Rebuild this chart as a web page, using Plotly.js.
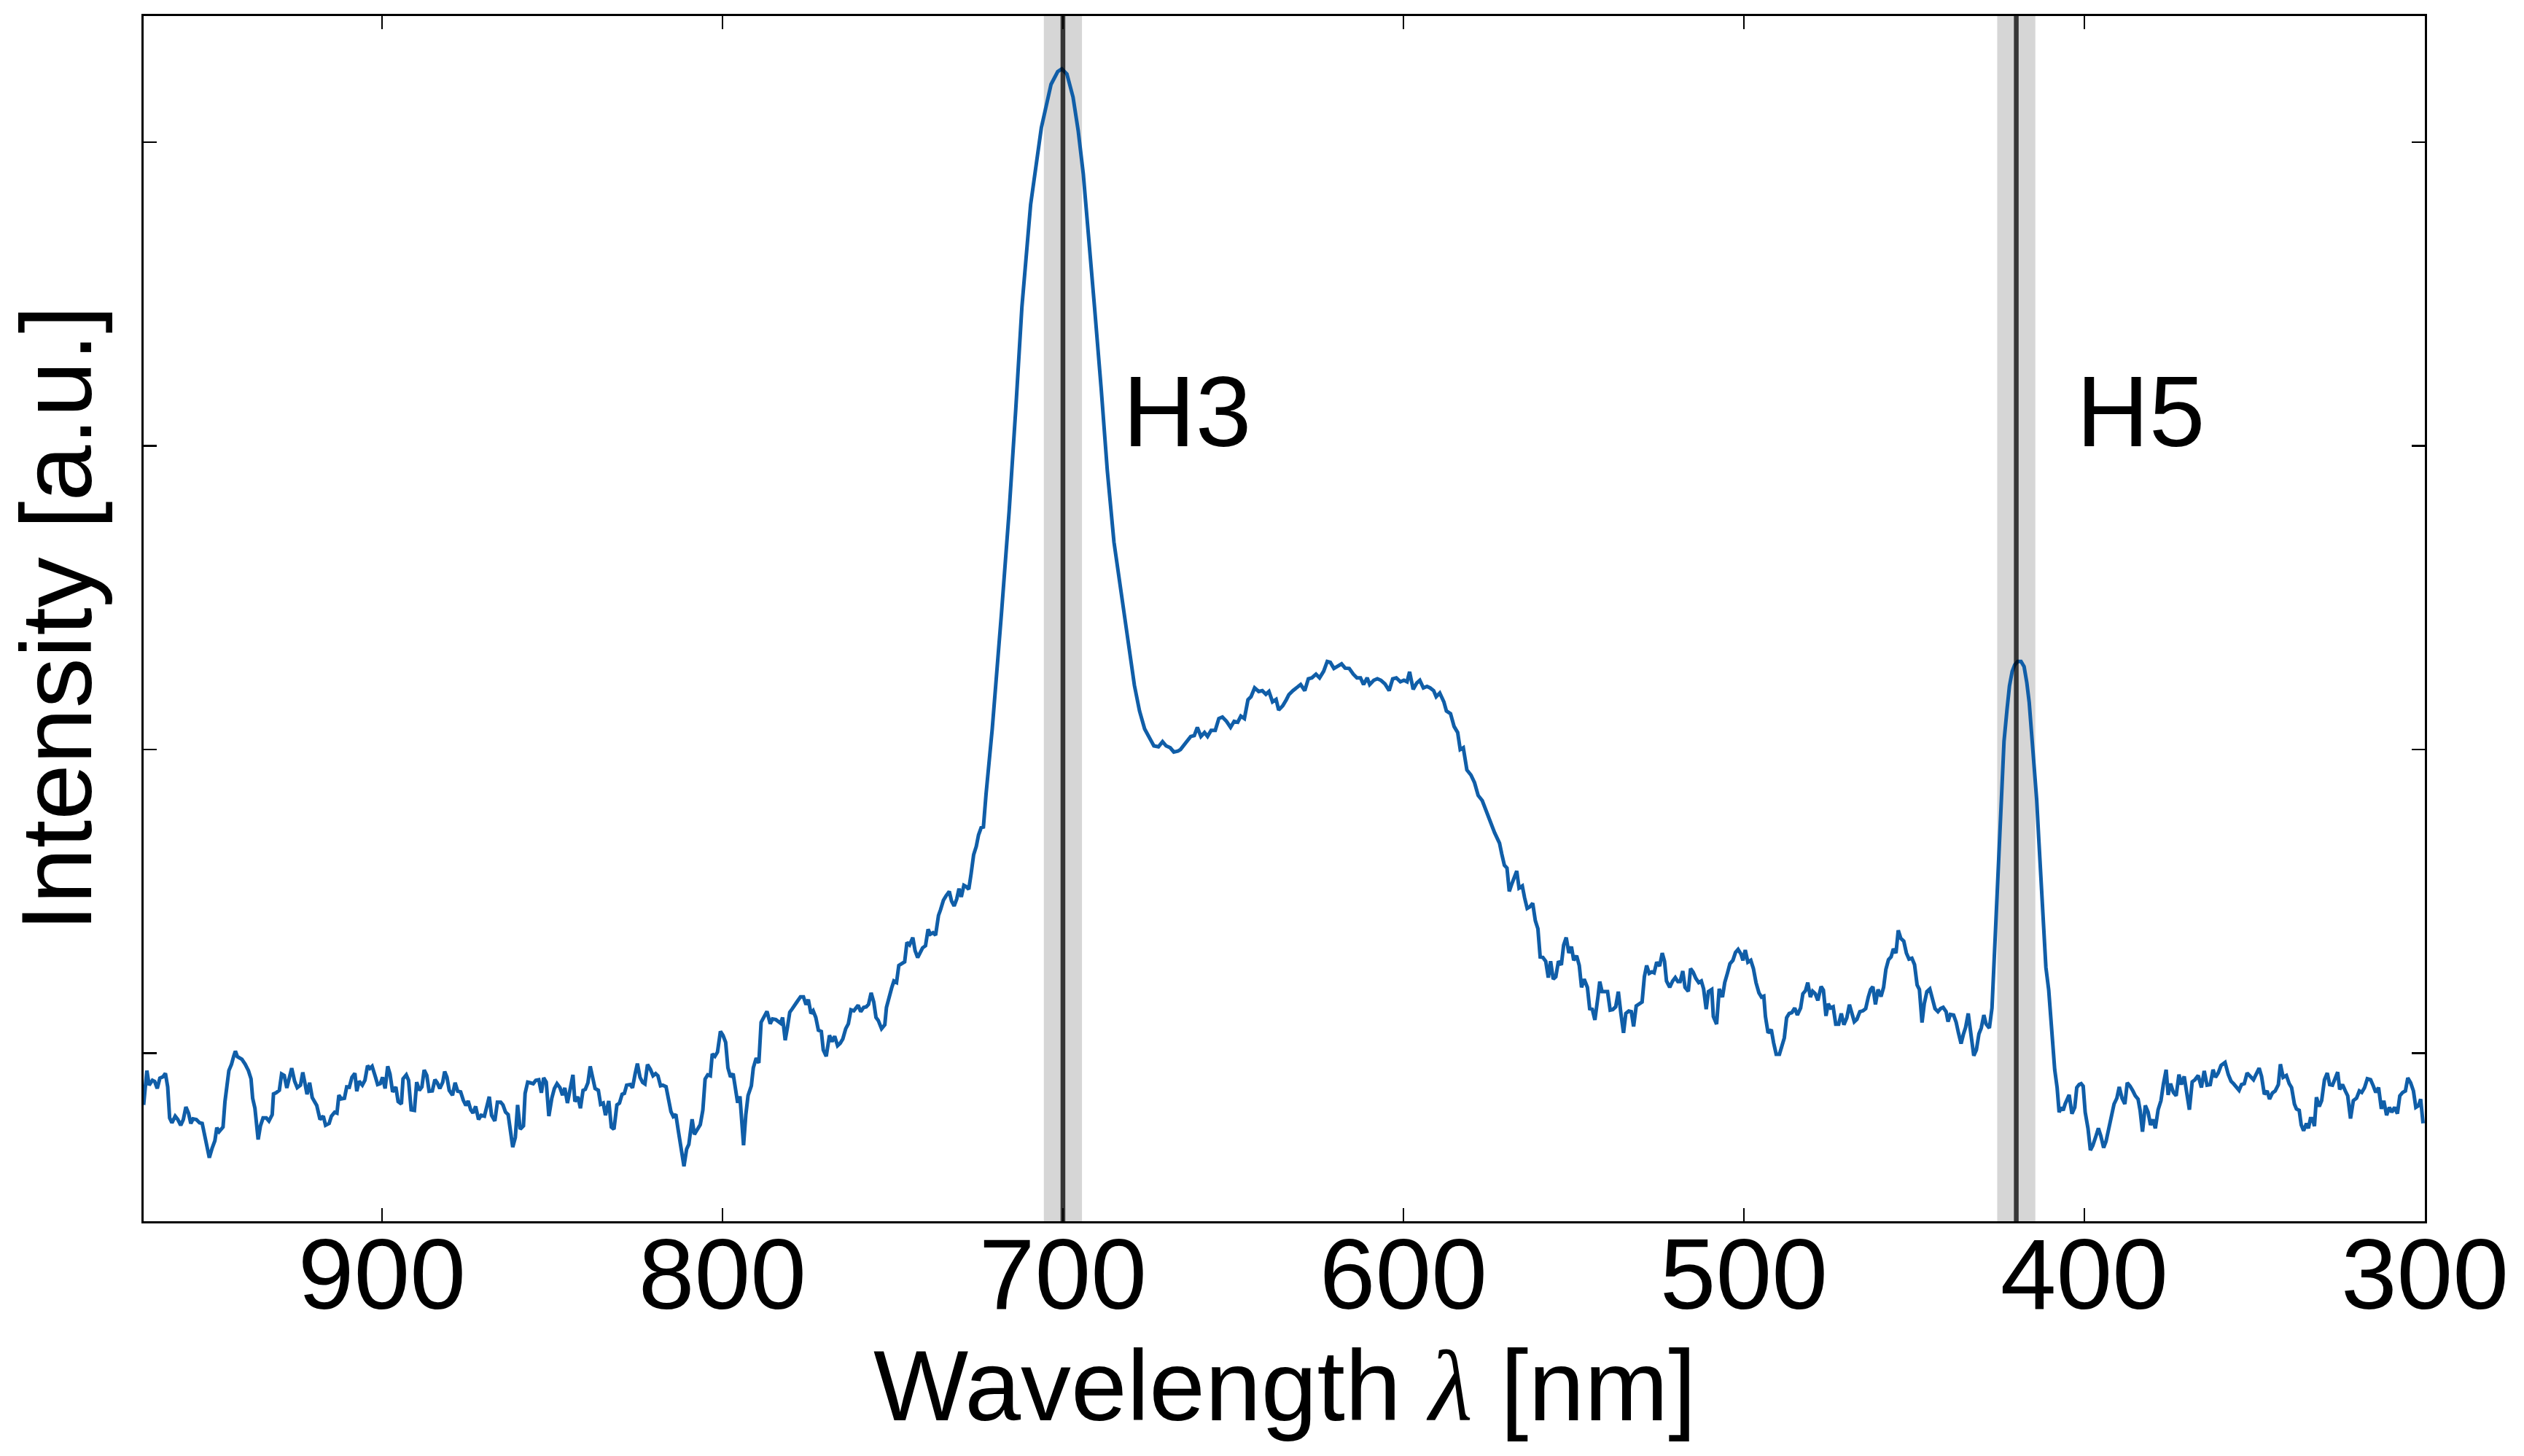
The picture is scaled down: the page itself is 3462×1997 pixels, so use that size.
<!DOCTYPE html>
<html>
<head>
<meta charset="utf-8">
<script src="https://cdn.plot.ly/plotly-3.0.1.min.js"></script>
<style>
  html, body { margin: 0; padding: 0; background: #ffffff; }
  #chart { width: 3462px; height: 1997px; }
</style>
</head>
<body>
<div id="chart"></div>
<script>
// ---- Data (wavelength in nm, intensity in arbitrary units) ----
const wavelengthA = [
  970.0, 969.05, 968.38, 967.43, 966.76, 966.0, 965.23, 964.27, 963.6, 962.93,
  962.36, 961.69, 960.73, 959.97, 959.11, 958.34, 957.58, 956.81, 956.14, 955.48,
  954.52, 953.56, 952.8, 952.13, 951.46, 950.7, 949.93, 949.07, 948.5, 947.83,
  946.68, 946.11, 944.96, 944.19, 943.53, 943.05, 942.47, 941.14, 940.18, 939.22,
  938.46, 937.98, 937.31, 936.83, 936.36, 935.69, 934.92, 933.97, 933.2, 932.24,
  931.86, 931.1, 930.14, 929.47, 928.71, 927.94, 927.08, 926.51, 925.65, 924.88,
  923.93, 923.26, 922.68, 922.01, 921.25, 920.48, 919.15, 918.19, 917.23, 916.56,
  915.51, 914.85, 913.89, 913.22, 912.65, 911.98, 911.02, 910.35, 909.59, 908.82,
  907.96, 907.39, 906.72, 905.76, 905.0, 904.23, 903.56, 902.89, 901.94, 901.27,
  900.5, 899.83, 899.07, 898.31, 897.64, 896.87, 895.92, 895.25, 894.29, 893.81,
  892.86, 892.19, 891.42, 890.47, 889.8, 889.03, 888.27, 887.6, 886.83, 886.16,
  885.21, 884.44, 883.77, 883.01, 882.15, 881.58, 880.91, 880.24, 879.28, 878.52,
  877.75, 876.89, 876.13, 875.36, 874.69, 873.93, 873.26, 872.49, 871.63, 870.87,
  869.91, 869.24, 868.48, 867.81, 866.85, 866.09, 865.13, 864.46, 863.7, 862.93,
  862.26, 861.59, 860.83, 860.16, 859.4, 858.44, 857.96, 857.2, 856.53, 855.57,
  854.81, 853.95, 853.18, 852.51, 851.75, 850.98, 850.12, 849.36, 848.59, 847.73,
  846.97, 846.3, 845.53, 844.58, 843.91, 843.33, 842.47, 841.71, 840.94, 840.28,
  839.51, 838.84, 838.08, 837.41, 836.45, 835.78, 835.02, 834.35, 833.39, 832.63,
  831.86, 831.0, 830.24, 829.47, 828.8, 828.13, 827.08, 826.41, 825.65, 824.98,
  824.21
];
const intensityA = [
  0.830, 0.943, 0.895, 0.911, 0.907, 0.884, 0.918, 0.923, 0.934, 0.889,
  0.787, 0.771, 0.793, 0.782, 0.763, 0.782, 0.823, 0.803, 0.769, 0.784,
  0.782, 0.771, 0.769, 0.734, 0.702, 0.656, 0.686, 0.712, 0.755, 0.742,
  0.757, 0.841, 0.943, 0.964, 0.991, 1.007, 0.989, 0.980, 0.964, 0.943,
  0.916, 0.852, 0.819, 0.771, 0.716, 0.761, 0.787, 0.787, 0.777, 0.798,
  0.866, 0.870, 0.878, 0.932, 0.927, 0.886, 0.932, 0.951, 0.908, 0.887,
  0.895, 0.937, 0.905, 0.865, 0.903, 0.854, 0.828, 0.782, 0.793, 0.763,
  0.769, 0.793, 0.806, 0.803, 0.862, 0.850, 0.852, 0.889, 0.888, 0.921,
  0.934, 0.875, 0.908, 0.895, 0.911, 0.959, 0.950, 0.957, 0.923, 0.897,
  0.900, 0.921, 0.884, 0.957, 0.932, 0.873, 0.889, 0.841, 0.833, 0.916,
  0.929, 0.911, 0.814, 0.812, 0.905, 0.878, 0.889, 0.945, 0.927, 0.875,
  0.876, 0.913, 0.903, 0.884, 0.905, 0.940, 0.921, 0.878, 0.862, 0.903,
  0.875, 0.873, 0.846, 0.828, 0.843, 0.814, 0.803, 0.825, 0.782, 0.796,
  0.793, 0.823, 0.857, 0.796, 0.777, 0.839, 0.839, 0.830, 0.806, 0.798,
  0.739, 0.691, 0.723, 0.830, 0.750, 0.761, 0.868, 0.905, 0.903, 0.900,
  0.911, 0.913, 0.870, 0.919, 0.905, 0.793, 0.852, 0.884, 0.900, 0.887,
  0.862, 0.886, 0.836, 0.895, 0.929, 0.841, 0.857, 0.819, 0.878, 0.881,
  0.903, 0.957, 0.911, 0.884, 0.878, 0.832, 0.836, 0.796, 0.843, 0.757,
  0.750, 0.830, 0.836, 0.865, 0.868, 0.895, 0.897, 0.886, 0.932, 0.966,
  0.921
];

const wavelengthB = [
  823.44, 822.77, 822.01, 821.15, 820.38, 819.62, 818.95, 818.18, 817.51, 816.56,
  815.79, 815.12, 814.45, 813.69, 813.02, 812.26, 811.3, 810.53, 809.87, 808.91,
  808.24, 807.48, 806.52, 805.75, 805.09, 804.32, 803.56, 802.98, 802.22, 801.45,
  800.59, 799.83, 799.06, 798.39, 797.63, 796.86, 796.19, 795.53, 794.86, 793.8,
  793.14, 792.47, 791.51, 790.94, 790.08, 789.31, 788.64, 787.88, 786.92, 785.97,
  785.3, 784.34, 783.58, 782.91, 782.33, 781.57, 780.9, 780.23, 779.46, 778.8,
  778.13, 777.07, 776.21, 775.45, 774.78, 774.01, 773.35, 772.58, 771.82, 770.96,
  770.38, 769.52, 768.57, 767.8, 767.04, 766.18, 765.41, 764.65, 763.79, 763.02,
  762.26, 761.4, 760.63, 760.15, 759.39, 758.53, 757.76, 757.09, 756.33, 755.56,
  754.9, 754.23, 753.27, 752.31, 751.83, 751.07, 750.3, 749.64, 748.87, 748.2,
  747.44, 746.48, 745.81, 745.05, 744.09, 743.42, 742.66, 741.99, 741.22, 740.36,
  739.6, 738.93, 738.16, 737.4, 736.54, 735.96, 735.1, 734.34, 733.38, 732.71,
  731.95, 731.19, 730.52, 729.85, 729.08, 728.41, 727.65, 726.98, 726.22, 725.45,
  724.78, 724.01, 723.35, 722.58, 721.91, 721.15
];
const intensityB = [
  0.904, 0.899, 0.963, 0.947, 0.926, 0.933, 0.926, 0.893, 0.895, 0.890,
  0.850, 0.808, 0.792, 0.799, 0.749, 0.700, 0.628, 0.684, 0.700, 0.783,
  0.733, 0.747, 0.765, 0.813, 0.915, 0.929, 0.926, 0.998, 0.990, 1.004,
  1.072, 1.059, 1.036, 0.952, 0.922, 0.933, 0.888, 0.837, 0.858, 0.697,
  0.797, 0.861, 0.893, 0.952, 0.984, 0.968, 1.102, 1.118, 1.138, 1.097,
  1.113, 1.111, 1.105, 1.099, 1.118, 1.043, 1.086, 1.135, 1.147, 1.156,
  1.169, 1.186, 1.186, 1.160, 1.177, 1.131, 1.140, 1.118, 1.076, 1.072,
  1.011, 0.990, 1.059, 1.038, 1.056, 1.025, 1.033, 1.047, 1.081, 1.097,
  1.143, 1.140, 1.151, 1.158, 1.137, 1.151, 1.153, 1.161, 1.199, 1.169,
  1.118, 1.108, 1.081, 1.094, 1.151, 1.188, 1.215, 1.238, 1.233, 1.289,
  1.293, 1.301, 1.365, 1.357, 1.381, 1.338, 1.315, 1.333, 1.347, 1.354,
  1.408, 1.392, 1.397, 1.389, 1.454, 1.472, 1.504, 1.518, 1.533, 1.501,
  1.485, 1.508, 1.542, 1.515, 1.553, 1.549, 1.540, 1.590, 1.654, 1.681,
  1.719, 1.743, 1.745, 1.853, 1.938, 2.024
];

// H3 peak
const wavelengthC = [
  720.76, 718.06, 715.8, 713.85, 712.05, 709.49, 706.34, 703.49, 701.53, 700.33,
  698.83, 697.03, 695.52, 694.02, 692.52, 690.72, 688.76, 686.96, 685.01, 682.75,
  680.5, 679.0, 677.5, 676.0, 674.49
];
const intensityC = [
  2.068, 2.447, 2.784, 3.121, 3.457, 3.794, 4.047, 4.190, 4.232, 4.241,
  4.224, 4.148, 4.038, 3.895, 3.710, 3.457, 3.188, 2.918, 2.683, 2.497,
  2.329, 2.211, 2.127, 2.068, 2.034
];

// plateau between the lines
const wavelengthD = [
  673.29, 671.94, 670.74, 669.69, 668.48, 667.43, 666.23, 665.48, 664.73, 663.68,
  662.47, 661.42, 660.52, 659.47, 658.42, 657.52, 656.47, 655.26, 654.21, 653.16,
  651.96, 650.76, 649.71, 648.66, 647.75, 646.7, 645.65, 644.75, 643.7, 642.5,
  641.45, 640.39, 639.49, 638.44, 637.39, 636.64, 635.44, 634.39, 633.63, 632.43,
  631.23, 630.18, 628.97, 627.92, 626.87, 625.67, 624.62, 623.42, 622.37, 621.47,
  620.41, 619.21, 618.16, 617.11, 615.91, 614.71, 613.65, 612.6, 611.7, 610.65,
  609.9, 608.7, 607.65, 606.6, 605.39, 604.19, 603.14, 602.09, 600.89, 599.83,
  598.93, 598.18, 597.13, 596.08, 595.18, 594.13, 593.07, 592.17, 591.12, 590.37,
  589.32, 588.12, 587.37, 586.16, 585.11, 584.06, 583.31, 582.41, 581.36, 580.16,
  579.11, 578.05, 576.85
];
const intensityD = [
  2.012, 2.009, 2.026, 2.012, 2.006, 1.992, 1.995, 2.000, 2.012, 2.026,
  2.043, 2.046, 2.073, 2.043, 2.056, 2.043, 2.063, 2.063, 2.102, 2.107,
  2.093, 2.073, 2.093, 2.090, 2.110, 2.102, 2.164, 2.174, 2.203, 2.191,
  2.194, 2.182, 2.191, 2.157, 2.165, 2.130, 2.144, 2.164, 2.181, 2.194,
  2.203, 2.214, 2.194, 2.233, 2.236, 2.248, 2.236, 2.258, 2.290, 2.287,
  2.267, 2.275, 2.282, 2.268, 2.267, 2.248, 2.236, 2.236, 2.214, 2.236,
  2.214, 2.228, 2.233, 2.228, 2.216, 2.194, 2.233, 2.236, 2.223, 2.228,
  2.223, 2.256, 2.198, 2.219, 2.228, 2.203, 2.208, 2.203, 2.194, 2.174,
  2.186, 2.157, 2.127, 2.118, 2.076, 2.056, 2.000, 2.006, 1.933, 1.916,
  1.891, 1.849, 1.832
];

const wavelengthE = [
  573.21, 572.45, 571.78, 571.11, 570.34, 569.58, 568.91, 568.24, 567.47, 566.71,
  566.04, 565.08, 564.41, 563.65, 562.88, 562.02, 561.26, 560.5, 559.83, 559.06,
  558.2, 557.44, 556.77, 556.0, 555.24, 554.47, 553.61, 552.94, 552.18, 551.41,
  550.65, 549.98, 549.12, 548.35, 547.68, 546.92, 545.96, 545.29, 544.53, 543.76,
  542.81, 542.33, 541.66, 540.9, 540.04, 539.27, 538.51, 537.65, 536.88, 536.12,
  535.35, 534.68, 533.82, 533.06, 532.39, 531.62, 530.86, 529.9, 529.23, 528.56,
  527.8, 527.03, 526.37, 525.6, 524.74, 523.98, 523.31, 522.73, 521.78, 520.92,
  520.15, 519.39, 518.72, 517.95, 517.28, 516.33, 515.66, 514.89, 514.13, 513.27,
  512.5, 511.83, 511.07, 510.4, 509.44, 508.97, 508.01, 507.24, 506.29, 505.62,
  504.85, 504.09, 503.23, 502.46, 501.7, 500.84, 500.27, 499.6, 498.83, 497.97,
  497.21, 496.44, 495.58, 494.82, 494.15, 493.67, 492.9, 491.95, 491.28, 490.51,
  489.56, 488.79, 488.12, 487.45, 486.69, 485.92, 485.07, 484.3, 483.34, 482.67,
  481.91, 481.24, 480.47, 479.81, 479.04, 478.28, 477.32, 476.65, 475.89, 475.22,
  474.55, 473.78, 473.02, 472.16, 471.39, 470.63, 469.77, 469.0, 468.24, 467.57,
  466.8, 465.94, 464.99, 464.22, 463.46, 462.79, 462.12, 461.36, 460.59, 459.73,
  458.97, 458.3, 457.53, 456.77, 456.1, 455.33, 454.66, 453.9, 453.04, 452.27,
  451.51, 450.65, 449.88, 449.12, 448.45, 447.68, 447.02, 446.25, 445.39, 444.62,
  443.86, 443.0, 442.24, 441.47, 440.61, 440.04, 439.37, 438.41, 437.65, 436.98,
  436.21, 435.54, 434.88, 434.11, 433.35, 432.48, 431.72, 430.96, 430.29, 429.52,
  428.85, 427.9, 427.13
];
const intensityE = [
  1.726, 1.707, 1.692, 1.656, 1.619, 1.610, 1.533, 1.555, 1.576, 1.600,
  1.544, 1.551, 1.512, 1.477, 1.482, 1.494, 1.437, 1.410, 1.317, 1.316,
  1.303, 1.249, 1.303, 1.244, 1.252, 1.303, 1.291, 1.356, 1.381, 1.330,
  1.351, 1.306, 1.321, 1.289, 1.217, 1.244, 1.217, 1.147, 1.145, 1.110,
  1.190, 1.236, 1.203, 1.203, 1.203, 1.142, 1.144, 1.153, 1.203, 1.131,
  1.067, 1.131, 1.139, 1.137, 1.088, 1.156, 1.161, 1.169, 1.252, 1.289,
  1.263, 1.268, 1.265, 1.300, 1.287, 1.330, 1.303, 1.238, 1.217, 1.238,
  1.249, 1.236, 1.236, 1.271, 1.217, 1.204, 1.279, 1.267, 1.247, 1.233,
  1.238, 1.212, 1.145, 1.203, 1.210, 1.121, 1.096, 1.212, 1.185, 1.233,
  1.263, 1.295, 1.306, 1.332, 1.342, 1.326, 1.306, 1.340, 1.300, 1.306,
  1.279, 1.233, 1.199, 1.185, 1.188, 1.121, 1.067, 1.078, 1.035, 0.997,
  0.997, 1.024, 1.051, 1.117, 1.131, 1.134, 1.149, 1.126, 1.149, 1.196,
  1.206, 1.233, 1.185, 1.204, 1.196, 1.174, 1.220, 1.208, 1.123, 1.163,
  1.149, 1.153, 1.096, 1.096, 1.131, 1.094, 1.117, 1.160, 1.131, 1.104,
  1.112, 1.137, 1.140, 1.147, 1.185, 1.210, 1.219, 1.161, 1.210, 1.187,
  1.217, 1.276, 1.308, 1.317, 1.344, 1.330, 1.405, 1.378, 1.369, 1.330,
  1.310, 1.313, 1.292, 1.225, 1.210, 1.101, 1.163, 1.203, 1.212, 1.174,
  1.147, 1.137, 1.147, 1.151, 1.137, 1.104, 1.128, 1.126, 1.102, 1.067,
  1.032, 1.062, 1.085, 1.131, 1.056, 0.992, 1.011, 1.064, 1.083, 1.126,
  1.096, 1.083, 1.149
];

// H5 peak
const wavelengthF = [
  425.0, 424.37, 423.6, 422.7, 422.0, 421.2, 420.45, 419.6, 418.6, 417.7,
  416.9, 416.2, 415.5, 414.8, 414.0, 413.4
];
const intensityF = [
  1.707, 1.887, 2.027, 2.134, 2.209, 2.257, 2.279, 2.290, 2.290, 2.273,
  2.220, 2.155, 2.059, 1.962, 1.834, 1.707
];

const wavelengthG = [
  411.65, 411.3, 410.47, 409.53, 408.71, 408.0, 407.41, 406.82, 406.23, 405.65,
  405.06, 404.47, 403.65, 402.82, 402.23, 401.53, 400.94, 400.35, 399.76, 398.94,
  398.23, 397.53, 396.58, 395.88, 395.17, 394.34, 393.64, 392.81, 392.11, 391.28,
  390.46, 389.75, 388.93, 388.11, 387.4, 386.58, 385.75, 385.05, 384.22, 383.63,
  382.93, 382.1, 381.28, 380.57, 379.87, 379.16, 378.34, 377.51, 376.81, 375.98,
  375.39, 374.69, 373.86, 373.04, 372.22, 371.51, 370.68, 369.86, 369.15, 368.33,
  367.51, 366.56, 365.62, 364.8, 363.97, 363.03, 362.21, 361.5, 360.68, 359.86,
  358.68, 357.73, 356.91, 356.2, 355.38, 354.56, 353.85, 353.03, 352.2, 351.26,
  350.32, 349.49, 348.67, 347.96, 347.14, 346.32, 345.61, 344.79, 343.96, 343.02,
  342.43, 341.61, 340.67, 339.84, 339.14, 338.31, 337.72, 336.9, 336.31, 335.61,
  334.78, 334.19, 333.6, 333.02, 332.43, 331.84, 331.01, 330.31, 329.48, 328.66,
  327.95, 327.13, 326.31, 325.6, 325.01, 324.19, 323.36, 322.66, 321.83, 321.01,
  320.07, 319.24, 318.53, 317.71, 316.89, 315.94, 315.12, 314.41, 313.59, 312.77,
  312.06, 311.24, 310.41, 309.71, 308.88, 308.06, 307.35, 306.53, 305.71, 305.0,
  304.18, 303.35, 302.65, 301.82, 301.23, 300.53
];
const intensityG = [
  1.347, 1.283, 1.208, 1.079, 0.946, 0.887, 0.806, 0.822, 0.812, 0.833,
  0.849, 0.863, 0.801, 0.822, 0.887, 0.897, 0.900, 0.892, 0.806, 0.753,
  0.681, 0.696, 0.728, 0.753, 0.728, 0.689, 0.710, 0.756, 0.801, 0.833,
  0.852, 0.889, 0.852, 0.833, 0.903, 0.892, 0.876, 0.860, 0.849, 0.812,
  0.742, 0.828, 0.806, 0.764, 0.782, 0.753, 0.814, 0.844, 0.897, 0.946,
  0.863, 0.900, 0.871, 0.860, 0.930, 0.897, 0.924, 0.865, 0.814, 0.906,
  0.913, 0.927, 0.887, 0.942, 0.895, 0.897, 0.946, 0.921, 0.935, 0.960,
  0.970, 0.930, 0.908, 0.900, 0.887, 0.878, 0.897, 0.900, 0.935, 0.924,
  0.913, 0.932, 0.951, 0.924, 0.865, 0.876, 0.849, 0.869, 0.876, 0.897,
  0.964, 0.921, 0.927, 0.900, 0.887, 0.833, 0.817, 0.812, 0.764, 0.745,
  0.769, 0.753, 0.785, 0.785, 0.760, 0.855, 0.825, 0.844, 0.913, 0.935,
  0.897, 0.895, 0.921, 0.938, 0.881, 0.897, 0.876, 0.860, 0.785, 0.844,
  0.852, 0.876, 0.871, 0.887, 0.916, 0.913, 0.892, 0.871, 0.887, 0.817,
  0.844, 0.796, 0.822, 0.806, 0.822, 0.801, 0.860, 0.871, 0.876, 0.919,
  0.903, 0.876, 0.822, 0.828, 0.849, 0.769
];

// Harmonic lines and labels
const harmonicNames = ["H3", "H5"];
const harmonicWavelengths = [700, 420];
const bandHalfWidth = 5.6;      // nm, grey band around each line
const labelOffset = 17.2;       // nm, labels sit to the short-wavelength side
const labelLevel = 3.115;       // intensity units

const xTickValues = [900, 800, 700, 600, 500, 400, 300];
const yTickValues = [1, 2, 3, 4];
const xRange = [970, 300];
const yRange = [0.447, 4.415];
const xTitle = "Wavelength <i><span style=\"font-family:Liberation Serif\">λ</span></i> [nm]";
const yTitle = "Intensity [a.u.]";

// ---- Build the figure ----
const wavelength = [].concat(wavelengthA, wavelengthB, wavelengthC, wavelengthD, wavelengthE, wavelengthF, wavelengthG);
const intensity = [].concat(intensityA, intensityB, intensityC, intensityD, intensityE, intensityF, intensityG);

const FONT = "Liberation Sans, Arial, Helvetica, sans-serif";
const FS = 138;

const trace = {
  x: wavelength,
  y: intensity,
  type: "scatter",
  mode: "lines",
  line: { color: "#105ea8", width: 5 },
  hoverinfo: "skip",
  showlegend: false
};

const shapes = [];
harmonicWavelengths.forEach(function (w) {
  shapes.push({
    type: "rect", xref: "x", yref: "paper",
    x0: w - bandHalfWidth, x1: w + bandHalfWidth, y0: 0, y1: 1,
    fillcolor: "#d6d6d6", line: { width: 0 }, layer: "below"
  });
  shapes.push({
    type: "line", xref: "x", yref: "paper",
    x0: w, x1: w, y0: 0, y1: 1,
    line: { color: "rgba(0,0,0,0.75)", width: 6.5 }, layer: "above"
  });
});

const annotations = harmonicNames.map(function (name, i) {
  return {
    text: name, xref: "x", yref: "y",
    x: harmonicWavelengths[i] - labelOffset, y: labelLevel,
    xanchor: "left", yanchor: "middle", showarrow: false,
    font: { family: FONT, size: FS, color: "#000000" }
  };
});
// x-axis title placed as a paper annotation so it can sit as close to the tick labels as in the reference
annotations.push({
  text: xTitle, xref: "paper", yref: "paper", x: 0.5, y: -0.1365,
  xanchor: "center", yanchor: "middle", showarrow: false,
  font: { family: FONT, size: FS, color: "#000000" }
});

const axisCommon = {
  showgrid: false, zeroline: false,
  showline: true, linecolor: "#000000", linewidth: 3,
  mirror: "ticks", ticks: "inside", ticklen: 18, tickwidth: 2.7, tickcolor: "#000000",
  tickfont: { family: FONT, size: FS, color: "#000000" },
  automargin: false
};

const layout = {
  width: 3462, height: 1997,
  margin: { l: 197, r: 136, t: 22, b: 322, pad: 0 },
  paper_bgcolor: "#ffffff", plot_bgcolor: "#ffffff",
  font: { family: FONT, size: FS, color: "#000000" },
  xaxis: Object.assign({}, axisCommon, {
    range: xRange, tickmode: "array", tickvals: xTickValues,
    ticktext: xTickValues.map(String),
    ticklabelstandoff: -49
  }),
  yaxis: Object.assign({}, axisCommon, {
    range: yRange, tickmode: "array", tickvals: yTickValues,
    showticklabels: false,
    title: { text: yTitle, font: { family: FONT, size: FS, color: "#000000" }, standoff: 60 }
  }),
  shapes: shapes,
  annotations: annotations,
  showlegend: false
};

Plotly.newPlot("chart", [trace], layout, { displayModeBar: false, staticPlot: true });
</script>
</body>
</html>
